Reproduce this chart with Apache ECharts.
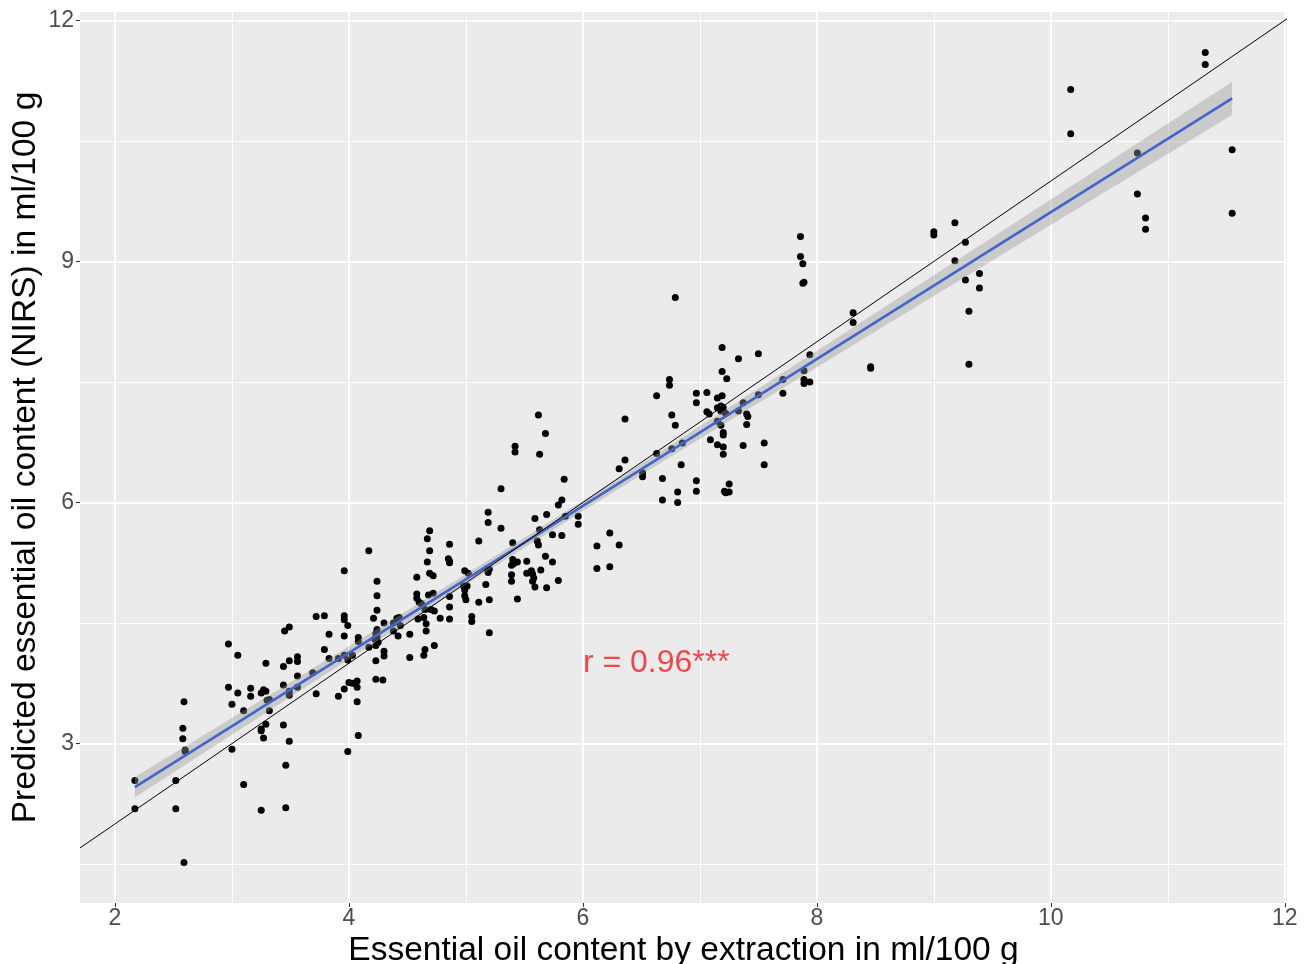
<!DOCTYPE html>
<html>
<head>
<meta charset="utf-8">
<script src="https://cdn.jsdelivr.net/npm/echarts@6/dist/echarts.min.js"></script>
<style>
  html, body { margin: 0; padding: 0; background: #ffffff; }
  #chart { width: 1306px; height: 964px; }
</style>
</head>
<body>
<div id="chart"></div>
<script>
// Essential oil content (ml/100 g): reference extraction vs. NIRS prediction
const extractionContent = [
  2.17,2.17,2.59,2.59,2.58,2.58,2.60,2.60,2.52,2.52,
  2.97,3.05,2.97,3.00,3.05,3.10,3.00,3.10,3.16,3.16,
  3.25,3.27,3.29,3.30,3.32,3.32,3.29,3.29,3.25,3.25,
  3.27,3.25,3.44,3.49,3.56,3.56,3.44,3.49,3.49,3.56,
  3.56,3.44,3.49,3.46,3.46,3.69,3.72,3.79,3.83,3.91,
  3.96,3.99,4.03,4.08,3.91,3.96,4.00,4.03,4.07,4.07,
  4.07,4.08,3.99,
  3.45,3.49,3.72,3.79,3.83,3.96,3.96,3.96,3.99,3.96,
  4.08,4.17,4.24,4.24,4.24,4.21,4.30,4.24,4.23,4.24,
  4.22,4.25,4.23,4.17,4.30,4.30,4.23,4.23,4.29,4.38,
  4.41,4.43,4.44,4.42,4.38,4.52,4.52,4.58,4.58,4.58,
  4.60,4.62,4.59,4.64,4.66,4.66,4.65,4.64,4.73,4.69,
  4.67,4.69,4.67,4.69,4.72,4.68,4.72,4.65,4.70,4.73,
  4.78,4.86,4.85,4.86,4.86,4.86,4.86,4.86,
  5.19,5.19,5.30,5.11,4.99,5.02,4.98,5.01,4.99,4.99,
  5.00,5.05,5.05,5.11,5.17,5.18,5.20,5.19,5.20,5.20,
  5.40,5.40,5.41,5.44,5.39,5.39,5.39,5.44,5.52,5.52,
  5.56,5.57,5.57,5.58,5.59,5.64,5.69,5.68,5.74,5.79,
  5.59,5.69,5.63,5.61,5.62,5.74,5.82,5.79,5.82,5.85,
  5.62,5.68,5.42,5.42,5.63,5.30,5.84,6.36,6.36,6.31,
  6.76,6.79,6.63,6.51,6.51,6.68,6.68,6.81,6.81,5.96,
  5.96,6.12,6.23,6.31,6.12,6.23,6.76,
  6.79,7.19,7.33,7.50,7.19,7.23,6.74,6.74,6.63,6.97,
  6.97,7.06,7.15,7.19,7.15,7.18,7.20,7.18,7.06,7.08,
  7.22,7.37,7.33,7.40,7.41,7.15,7.18,7.40,7.20,7.20,
  7.50,7.71,7.71,7.89,7.89,7.94,7.89,7.94,6.85,7.09,
  7.15,7.20,7.20,7.37,7.55,7.55,6.84,6.97,6.97,7.21,
  7.22,7.25,7.25,
  7.86,7.86,7.88,7.88,7.89,8.31,8.31,8.46,8.46,9.00,
  9.00,9.18,9.27,9.18,9.39,9.27,9.39,9.30,9.30,
  10.17,10.17,11.32,11.32,10.74,10.74,10.81,10.81,11.55,11.55
];
const nirsContent = [
  2.54,2.19,1.52,3.52,3.19,3.06,2.92,2.90,2.54,2.19,
  4.24,4.10,3.70,3.49,3.63,3.41,2.93,2.49,3.69,3.59,
  3.63,3.67,3.65,3.54,3.55,3.41,4.00,3.24,3.18,3.16,
  3.07,2.17,3.96,4.03,4.08,4.02,3.73,3.65,3.60,3.84,
  3.70,3.23,3.03,2.73,2.20,3.88,3.62,4.17,4.06,4.06,
  4.10,4.04,4.10,4.27,3.59,3.68,3.76,3.75,3.78,3.70,
  3.52,3.10,2.90,
  4.40,4.45,4.58,4.59,4.36,5.15,4.59,4.54,4.47,4.34,
  4.32,5.40,5.02,4.84,4.66,4.56,4.50,4.42,4.37,4.33,
  4.30,4.26,4.22,4.20,4.15,4.09,4.03,3.80,3.79,4.50,
  4.56,4.57,4.47,4.34,4.40,4.36,4.07,5.07,4.86,4.81,
  4.76,4.74,4.55,4.57,4.49,4.40,4.17,4.10,4.22,5.65,
  5.55,5.40,5.26,5.12,5.09,4.85,4.87,4.67,4.67,4.65,
  4.56,5.48,5.30,5.27,5.25,4.83,4.70,4.55,
  5.88,5.75,5.68,5.52,5.15,5.12,4.96,4.96,4.91,4.84,
  4.79,4.58,4.52,4.76,4.98,5.18,5.17,5.13,4.79,4.38,
  5.50,5.29,5.24,5.26,5.22,5.10,5.02,4.80,5.27,5.12,
  5.15,5.11,5.02,5.06,4.95,5.16,4.94,5.33,5.26,5.03,
  5.80,5.85,5.66,5.52,5.47,5.60,5.59,5.97,6.03,5.83,
  7.09,6.86,6.70,6.63,6.60,6.17,6.29,7.04,6.53,6.42,
  7.09,6.96,6.61,6.37,6.32,6.30,6.03,6.13,6.00,5.83,
  5.73,5.46,5.62,5.47,5.18,5.20,6.67,
  8.55,7.93,7.79,7.85,7.63,7.54,7.53,7.46,7.33,7.36,
  7.24,7.37,7.30,7.33,7.18,7.20,7.18,7.14,7.13,7.10,
  7.11,7.24,7.14,7.10,7.07,7.01,6.96,6.97,6.87,6.84,
  7.34,7.53,7.36,7.64,7.53,7.50,7.48,7.84,6.74,6.78,
  6.72,6.69,6.60,6.71,6.74,6.47,6.47,6.27,6.14,6.14,
  6.12,6.13,6.23,
  9.31,9.06,8.97,8.73,8.74,8.36,8.24,7.69,7.67,9.37,
  9.33,9.48,9.24,9.01,8.85,8.77,8.67,8.38,7.72,
  11.14,10.59,11.60,11.45,10.35,9.84,9.54,9.40,10.39,9.60
];

const xMajorTicks = [2, 4, 6, 8, 10, 12];
const xMinorTicks = [3, 5, 7, 9, 11];
const yMajorTicks = [3, 6, 9, 12];
const yMinorTicks = [1.5, 4.5, 7.5, 10.5];

const xTitle = 'Essential oil content by extraction in ml/100 g';
const yTitle = 'Predicted essential oil content (NIRS) in ml/100 g';
const corrLabel = 'r = 0.96***';
const corrLabelAt = [6, 4];

// Continuous scale limits: data range widened by 5% at each end
function paddedRange(values) {
  const lo = Math.min(...values), hi = Math.max(...values);
  const pad = (hi - lo) * 0.05;
  return [lo - pad, hi + pad];
}
const [xMin, xMax] = paddedRange(extractionContent);
const [yMin, yMax] = paddedRange(nirsContent);

const points = extractionContent.map((x, i) => [x, nirsContent[i]]);

// Ordinary least squares fit with a 95% confidence band for the mean
const n = points.length;
const mx = extractionContent.reduce((a, b) => a + b, 0) / n;
const my = nirsContent.reduce((a, b) => a + b, 0) / n;
let sxx = 0, sxy = 0;
points.forEach(([x, y]) => { sxx += (x - mx) * (x - mx); sxy += (x - mx) * (y - my); });
const slope = sxy / sxx;
const intercept = my - slope * mx;
let sse = 0;
points.forEach(([x, y]) => { const r = y - (intercept + slope * x); sse += r * r; });
const sigma = Math.sqrt(sse / (n - 2));
const tCrit = 1.968; // two-sided 95% Student t quantile for ~288 df

const fitLo = Math.min(...extractionContent);
const fitHi = Math.max(...extractionContent);
const bandSteps = 80;
const band = [];
for (let i = 0; i <= bandSteps; i++) {
  const x = fitLo + (fitHi - fitLo) * i / bandSteps;
  const yhat = intercept + slope * x;
  const se = sigma * Math.sqrt(1 / n + (x - mx) * (x - mx) / sxx);
  band.push([x, yhat - tCrit * se, yhat + tCrit * se]);
}
const fitLine = [[fitLo, intercept + slope * fitLo], [fitHi, intercept + slope * fitHi]];
const identityLine = [[xMin, xMin], [xMax, xMax]];

const FONT = 'Liberation Sans, Arial, sans-serif';
const tickLabelStyle = { color: '#4D4D4D', fontSize: 23, fontFamily: FONT };

function majorAxis(lo, hi, ticks, extra) {
  return Object.assign({
    type: 'value',
    min: lo,
    max: hi,
    axisLine: { show: false },
    axisTick: { show: true, length: 4, customValues: ticks, lineStyle: { color: '#333333', width: 1 } },
    splitLine: { show: true, lineStyle: { color: '#FFFFFF', width: 2 } }
  }, extra);
}
function minorAxis(lo, hi, ticks) {
  return {
    type: 'value',
    min: lo,
    max: hi,
    axisLine: { show: false },
    axisTick: { show: false, customValues: ticks },
    axisLabel: { show: false, customValues: ticks },
    splitLine: { show: true, lineStyle: { color: '#FFFFFF', width: 1 } }
  };
}

const chart = echarts.init(document.getElementById('chart'), null, { renderer: 'canvas' });
chart.setOption({
  animation: false,
  backgroundColor: '#FFFFFF',
  grid: {
    left: 80, top: 12, right: 19, bottom: 61,
    outerBoundsMode: 'none',
    containLabel: false,
    show: true, backgroundColor: '#EBEBEB', borderWidth: 0
  },
  xAxis: [
    minorAxis(xMin, xMax, xMinorTicks),
    majorAxis(xMin, xMax, xMajorTicks, {
      position: 'bottom',
      axisLabel: Object.assign({ show: true, customValues: xMajorTicks, margin: 4 }, tickLabelStyle),
      name: xTitle, nameLocation: 'middle', nameGap: 31, nameMoveOverlap: false,
      nameTextStyle: { color: '#000000', fontSize: 33.5, fontFamily: FONT }
    })
  ],
  yAxis: [
    minorAxis(yMin, yMax, yMinorTicks),
    majorAxis(yMin, yMax, yMajorTicks, {
      position: 'left',
      axisLabel: Object.assign({ show: true, customValues: yMajorTicks, margin: 6 }, tickLabelStyle),
      name: yTitle, nameLocation: 'middle', nameGap: 37, nameRotate: 90, nameMoveOverlap: false,
      nameTextStyle: { color: '#000000', fontSize: 33.6, fontFamily: FONT }
    })
  ],
  series: [
    {
      type: 'scatter',
      xAxisIndex: 1, yAxisIndex: 1,
      data: points,
      symbol: 'circle',
      symbolSize: 7,
      itemStyle: { color: '#000000', opacity: 1 },
      z: 2
    },
    {
      type: 'custom',
      xAxisIndex: 1, yAxisIndex: 1,
      data: [[mx, my]],
      clip: true,
      renderItem: function (params, api) {
        const upper = band.map(b => api.coord([b[0], b[2]]));
        const lower = band.map(b => api.coord([b[0], b[1]])).reverse();
        return {
          type: 'polygon',
          shape: { points: upper.concat(lower) },
          style: { fill: 'rgba(153,153,153,0.4)' }
        };
      },
      silent: true,
      z: 3
    },
    {
      type: 'line',
      xAxisIndex: 1, yAxisIndex: 1,
      data: fitLine,
      showSymbol: false,
      lineStyle: { color: '#3F66C8', width: 2.6 },
      silent: true,
      z: 4
    },
    {
      type: 'line',
      xAxisIndex: 1, yAxisIndex: 1,
      data: identityLine,
      showSymbol: false,
      lineStyle: { color: '#000000', width: 1 },
      silent: true,
      z: 5
    },
    {
      type: 'scatter',
      xAxisIndex: 1, yAxisIndex: 1,
      data: [corrLabelAt],
      symbolSize: 0,
      silent: true,
      label: {
        show: true,
        position: 'right',
        distance: 0,
        formatter: corrLabel,
        color: '#F21B24',
        fontSize: 32,
        fontFamily: FONT
      },
      z: 6
    }
  ]
});
</script>
</body>
</html>
